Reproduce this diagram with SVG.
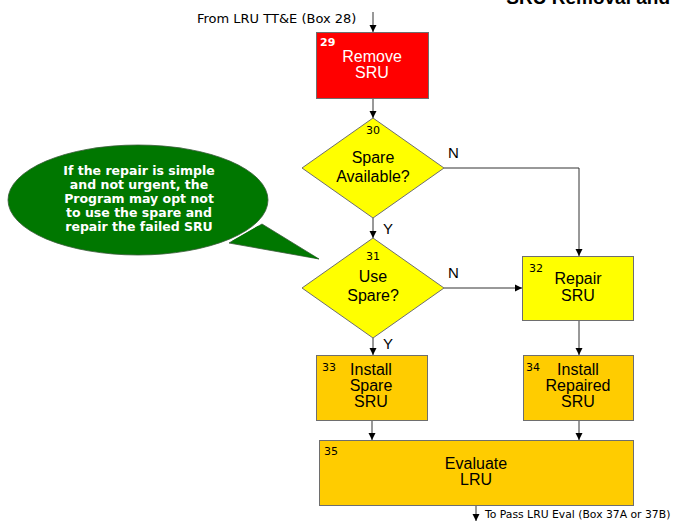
<svg xmlns="http://www.w3.org/2000/svg" width="673" height="522" viewBox="0 0 673 522">
<defs>
<style>
.lbl{font-family:"Liberation Sans",Arial,sans-serif;font-size:16px;text-anchor:middle;fill:#000}
.wl{fill:#fff}
.num{font-family:"DejaVu Sans",sans-serif;font-size:11px;fill:#000}
.yn{font-family:"Liberation Sans",Arial,sans-serif;font-size:15px;fill:#000}
.ext{font-family:"DejaVu Sans",sans-serif;fill:#000}
.shape{stroke:#6e6e6e;stroke-width:1}
.con{fill:none;stroke:#333;stroke-width:1}
.call{font-family:"DejaVu Sans",sans-serif;font-size:12.5px;font-weight:bold;fill:#fff;text-anchor:middle}
</style>
<marker id="ah" markerWidth="8" markerHeight="8" refX="7" refY="4" orient="auto" markerUnits="userSpaceOnUse">
<path d="M0,0.5 L7,4 L0,7.5 Z" fill="#000"/>
</marker>
</defs>
<rect width="673" height="522" fill="#fff"/>
<text x="670" y="4" font-family="Liberation Sans,Arial,sans-serif" font-size="19" font-weight="bold" text-anchor="end">SRU Removal and</text>
<text class="ext" x="197" y="23" font-size="13">From LRU TT&amp;E (Box 28)</text>

<g id="connectors">
<path class="con" d="M373,12 V32" marker-end="url(#ah)"/>
<path class="con" d="M373,98 V118" marker-end="url(#ah)"/>
<path class="con" d="M373,218 V238" marker-end="url(#ah)"/>
<path class="con" d="M444,168 H579 V256" marker-end="url(#ah)"/>
<path class="con" d="M444,288 H522" marker-end="url(#ah)"/>
<path class="con" d="M373,338 V355" marker-end="url(#ah)"/>
<path class="con" d="M579,321 V355" marker-end="url(#ah)"/>
<path class="con" d="M372,421 V440" marker-end="url(#ah)"/>
<path class="con" d="M579,421 V440" marker-end="url(#ah)"/>
<path class="con" d="M476,506 V521" marker-end="url(#ah)"/>
<text class="yn" x="448" y="158">N</text>
<text class="yn" x="383" y="234">Y</text>
<text class="yn" x="448" y="278">N</text>
<text class="yn" x="383" y="349">Y</text>
</g>

<g id="callout">
<path d="M262,224 L319,259 L229,243 Z" fill="#007700" stroke="#3a5a3a" stroke-width="0.8"/>
<ellipse cx="138" cy="200" rx="130" ry="55" fill="#007700" stroke="#3a5a3a" stroke-width="0.8"/>
<path d="M258,226 L319,259 L232,241 Z" fill="#007700"/>
<text class="call" x="139" y="175">If the repair is simple</text>
<text class="call" x="139" y="189">and not urgent, the</text>
<text class="call" x="139" y="203">Program may opt not</text>
<text class="call" x="139" y="217">to use the spare and</text>
<text class="call" x="139" y="231">repair the failed SRU</text>
</g>

<g id="box29">
<rect class="shape" x="316.5" y="32.5" width="112" height="66" fill="#ff0000"/>
<text class="num" x="320" y="46" style="fill:#fff;font-weight:bold">29</text>
<text class="lbl wl" x="372" y="62">Remove</text>
<text class="lbl wl" x="372" y="78">SRU</text>
</g>

<g id="dec30">
<polygon class="shape" points="373,118 444,168 373,218 302,168" fill="#ffff00"/>
<text class="num" x="366" y="134">30</text>
<text class="lbl" x="373" y="163">Spare</text>
<text class="lbl" x="373" y="182">Available?</text>
</g>

<g id="dec31">
<polygon class="shape" points="373,238 444,288 373,338 302,288" fill="#ffff00"/>
<text class="num" x="366" y="260">31</text>
<text class="lbl" x="373" y="282">Use</text>
<text class="lbl" x="373" y="301">Spare?</text>
</g>

<g id="box32">
<rect class="shape" x="522.5" y="256.5" width="111" height="64" fill="#ffff00"/>
<text class="num" x="529" y="272">32</text>
<text class="lbl" x="578" y="284">Repair</text>
<text class="lbl" x="578" y="301">SRU</text>
</g>

<g id="box33">
<rect class="shape" x="316.5" y="355.5" width="111" height="65" fill="#ffcc00"/>
<text class="num" x="322" y="371">33</text>
<text class="lbl" x="371" y="375">Install</text>
<text class="lbl" x="371" y="391">Spare</text>
<text class="lbl" x="371" y="407">SRU</text>
</g>

<g id="box34">
<rect class="shape" x="523.5" y="355.5" width="110" height="65" fill="#ffcc00"/>
<text class="num" x="526" y="371">34</text>
<text class="lbl" x="578" y="375">Install</text>
<text class="lbl" x="578" y="391">Repaired</text>
<text class="lbl" x="578" y="407">SRU</text>
</g>

<g id="box35">
<rect class="shape" x="319.5" y="440.5" width="314" height="65" fill="#ffcc00"/>
<text class="num" x="324" y="455">35</text>
<text class="lbl" x="476" y="469">Evaluate</text>
<text class="lbl" x="476" y="485">LRU</text>
</g>

<text class="ext" x="485" y="518" font-size="10.8">To Pass LRU Eval (Box 37A or 37B)</text>
</svg>
